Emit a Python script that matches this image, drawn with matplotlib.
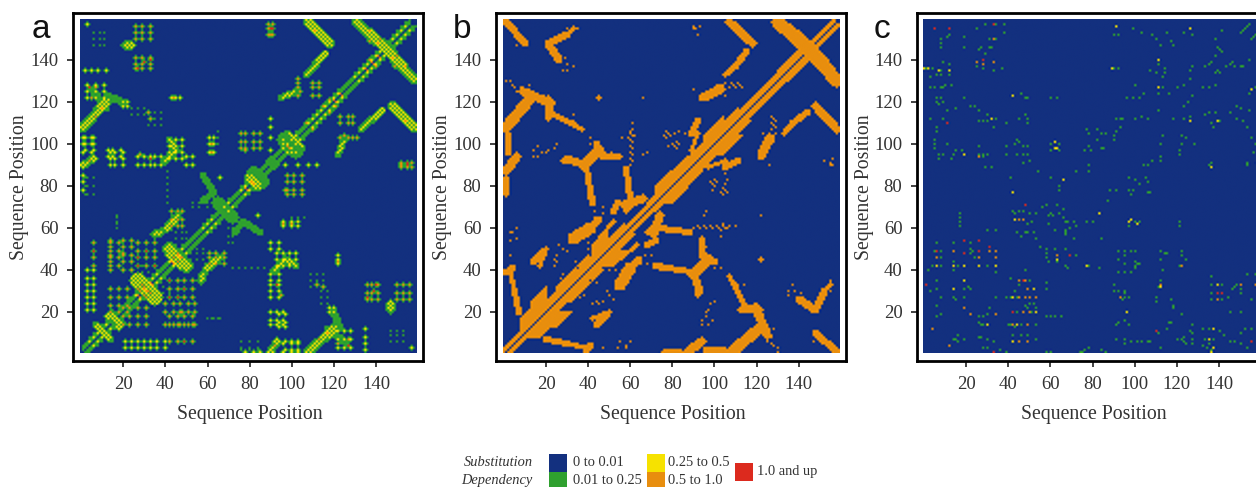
import numpy as np
import matplotlib
matplotlib.use("Agg")
import matplotlib.pyplot as plt
from matplotlib.colors import ListedColormap, BoundaryNorm
from matplotlib.patches import Rectangle

W, H = 1256, 487
N = 160

# ---- colour classes -------------------------------------------------------
BOUNDS = [0, 0.01, 0.25, 0.5, 1.0, 2.0]
LEVEL_VALUE = [0.005, 0.1, 0.4, 0.7, 1.5]
COLORS = ["#13307f", "#2fa02f", "#f6e200", "#e88e0e", "#dc2a1e"]
G, Y, O, R = 1, 2, 3, 4
TICKS = [20, 40, 60, 80, 100, 120, 140]

# ---- panel b: features read in the x>y half (mirrored across the diagonal) -
# main band: start, end, largest distance from the diagonal
B_BAND = [(0,8,3),(8,13,9),(13,21,12),(21,25,5),(25,35,7),(35,42,5),(42,50,10),(50,58,5),
          (58,68,3),(68,72,4),(72,80,8),(80,88,7),(88,95,6),(95,105,9),(105,112,6),
          (112,130,4),(130,144,5),(144,158,3)]
# x0, y0, x1, y1, half width
B_STROKES = [
    (87,1,94,6,1.8),(108,1,121,12,2.3),(120,21,125,9,1.8),(112,21,122,21,1),
    (107,37,115,22,.9),(20,7,30,5,1.1),(30,5,39,3,.9),(39,1,41,4,1.2),(148,10,158,1,1.4),
    (140,26,148,21,1.6),(148,21,152,30,1.4),(152,30,155,33,.8),(44,14,49,19,1.2),(42,17,50,20,.8),
    (55,33,60,41,2.6),(60,41,64,45,1.6),(64,43,68,43,.6),(72,42,77,41,1.4),(77,41,90,39,1.1),
    (90,38,97,45,2.4),(97,45,100,44,1.2),(94,46,94,55,.7),(90,38,93,30,1.5),(100,41,104,41,.6),
    (66,47,72,47,.6),(68,52,72,54,1.4),(71,57,74,66,1.8),(74,60,88,58,1.1),(88,60,110,61,.5),
    (122,94,127,103,1.5),(133,105,137,110,1),(137,110,144,115,1.2),(148,118,158,107,1.7),
    (144,146,158,130,2.8),(138,152,144,146,2.6),(130,158,138,152,2.6),(122,96,126,104,1),
    (99,78,101,84,.6),(104,76,106,84,.6),(103,77,106,77,.6),(105,89,111,92,1.4),(97,89,105,92,.7),
    (56,46,63,52,.7),(50,40,58,40,.6),(70,60,68,58,.7),
    (125,12,128,4,.6),(76,1,84,1,.8),(96,2,104,2,1.2),(113,22,120,23,.9),(108,33,115,33,.5),
    (42,36,46,40,1),(30,26,38,28,.5),(127,105,127,113,.5),(129,105,129,113,.5),(134,30,140,30,.5),
    (93,14,99,14,.5),(96,20,96,17,.5),(122,45,122,45,1),(154,91,156,91,.5),(156,95,156,89,.4),
    (147,6,150,8,.5),(58,76,61,78,.5),(73,74,73,72,.6),(103,61,103,56,.5),(42,24,48,25,.4),
    (45,96,52,95,.6),(28,92,38,90,.7),
]
B_DOTS = [(90,155),(92,152),(28,135),(30,135),(33,137),(29,141),(35,155),(30,155),(45,122),(66,122),
          (126,8),(128,12),(125,6),(127,5),(130,3),(130,1),(97,21),(99,16),(55,6),(60,6),(58,4),
          (66,95),(68,96),(60,106),(62,104),(33,92),(25,100),(24,98),(20,96),(14,97),(16,94),
          (17,45),(18,50),(19,48),(3,58),(3,54),(3,47),(26,52),(28,50),(30,49),(32,55),(34,44),
          (90,126),(112,128),(109,128),(105,123),(80,100),(82,98),(86,105)]

# ---- panel a: features read in the x>y half (mirrored across the diagonal) -
# start, end of stretches of the main band
A_Y_BAND = [(4,13),(26,37),(42,50),(58,64),(68,72),(76,84),(96,103),(108,124),(130,146),(148,156)]
A_O_BAND = [(27,35),(43,49),(120,124),(78,82),(135,143),(98,101)]
# x0, y0, x1, y1, half width, level
A_STROKES = [
    (14,7,7,14,.8,Y),(19,15,13,18,1.2,Y),(35,27,27,35,3.2,Y),
    (50,42,44,47,2.8,Y),(108,1,120,12,1.6,Y),(117,12,125,6,1,G),
    (123,12,120,20,1,G),(90,1,93,6,1.2,Y),(148,118,158,108,1.8,Y),(144,146,158,131,1.8,Y),
    (134,155,145,146,1.8,Y),(122,95,125,102,.9,Y),(133,107,143,116,1,Y),(92,40,97,45,1.2,Y),
    (97,45,102,42,.9,Y),(60,41,65,45,1.4,Y),(73,58,77,63,.9,G),(77,63,85,58,.8,G),
    (62,42,66,46,1,Y),(57,35,58,38,1.2,Y),(66,71,72,65,2.2,G),
    (102,97,97,102,3.2,G),(103,96,99,96,.8,Y),(105,98,102,102,.8,Y),(86,82,82,86,2.4,G),
    (92,90,90,92,1.4,G),(84,80,80,84,1.6,Y),(147,21,147,24,1.4,Y),
]
# columns, rows, level of the regular patches of dots
A_GRIDS = [
    ([42,46,49,53],[6,14,18,27,31,35],O),
    ([40,44,47,51,54],[14,20,24],O),
    ([21,24,27,30,33,36,40],[3,6],Y),
    ([20,23,27,31],[14,18,22],O),
    ([122,125,128],[3,7,11],Y),
    ([136,138,141,150,153,156],[26,29,33],O),
    ([152,155,157],[89,91],O),
    ([135],[2,5,8,12],Y),
    ([147,150,153],[6,9,11],G),
    ([157],[3],Y),
    ([123,127,129],[103,110,113],O),
    ([109,112,115],[32,35,38],G),
    ([114,117],[24,27,30],G),
    ([118,120],[20,22],Y),
    ([90,93,96],[14,16,20],Y),
    ([98,101,105],[76,78,82,85],O),
    ([97,103,108,112],[90],Y),
    ([96,100,103],[61,63],Y),
    ([93,96,99,102],[42,45,48],Y),
    ([90,94],[27,30,33,35,38,50,53],Y),
    ([94,97],[13,15,19],Y),
    ([97,100,103],[2,6],Y),
    ([76,80,84],[2],G),
    ([61,64,68],[43,46,48],O),
    ([55,58],[45,48,50],G),
    ([72,75,78,81,84,87],[41],G),
    ([78,82,85],[1],Y),
    ([96,100,103],[1,5],Y),
    ([122],[43,45,47],Y),
    ([100,103,106],[65],G),
    ([62,65],[17],G),
    ([36,39,42],[29,32],G),
    ([70,72],[53,56,60],G),
    ([6,3],[76,80,84],G),
    ([17],[60,63,66],G),
]
A_HOT = [(49,27,O),(46,27,R),(48,20,O),(46,31,O),(49,31,R),(42,31,O),(53,27,O),(46,6,O),(49,6,R),
         (49,18,O),(42,27,R),(42,35,R),(46,35,O),(53,31,O),(68,46,O),(90,155,R),(152,90,O),(155,91,R),
         (136,27,R),(139,30,R),(141,33,O),(125,104,O),(131,103,O),(127,7,O),(127,4,R),(122,44,O),
         (96,62,O),(100,62,O),(101,78,O),(97,78,O),(140,33,R),(112,33,O),(115,32,O),(84,66,Y),
         (122,5,O),(93,33,R),(95,28,O),(30,32,O),(33,29,O),(28,30,O),(31,27,O),(46,44,O),(48,46,O),
         (44,46,O),(140,137,O),(115,118,O),(118,121,O),(110,107,O),(154,111,O),(150,142,O),(154,137,O),
         (137,149,O),(141,148,O),(4,92,O),(113,7,O),(117,10,O)]

# ---- panel c: single cells --------------------------------------------------
C_RED = [(5,155),(12,155),(33,157),(28,140),(11,110),(26,54),(19,54),(31,51),(48,71),(69,47),(110,11),
         (141,29),(155,6),(33,1),(1,33),(19,48),(26,49),(6,49),(42,20),(47,35),(139,29)]
C_ORANGE = [(25,139),(28,138),(33,139),(33,150),(26,94),(6,46),(14,49),(26,46),(31,49),(34,49),(34,46),
            (45,35),(48,35),(49,31),(45,27),(48,27),(50,27),(53,27),(47,20),(50,20),(34,19),(42,14),(49,14),
            (49,6),(45,6),(12,4),(4,12),(63,47),(122,42),(112,33),(93,27),(139,26),(150,33),(157,33),(45,64),
            (47,64),(22,19),(19,22)]
C_YELLOW = [(0,136),(2,136),(7,135),(12,135),(32,112),(19,95),(42,123),(42,77),(62,101),(62,98),(63,98),
            (89,136),(91,156),(111,140),(111,127),(126,155),(126,111),(139,111),(136,89),(158,91),(66,83),
            (83,67),(97,63),(98,64),(101,62),(63,45),(77,42),(96,20),(139,33),(137,12),(135,7),(137,3),(136,1),
            (155,126),(6,42),(14,42),(19,42),(26,42),(34,42),(19,35),(14,31),(52,31),(42,27),(30,14),(44,14),
            (42,6),(53,20),(43,64),(112,32)]
C_GREEN = [(8,148),(11,151),(12,152),(8,146),(8,150),(19,151),(19,146),(25,155),(29,157),(34,157),(38,157),
           (38,153),(31,150),(34,150),(26,145),(29,143),(31,146),(32,146),(27,146),(25,137),(28,136),(33,135),
           (37,136),(1,136),(4,136),(3,132),(6,133),(8,133),(8,135),(12,133),(9,139),(12,138),(3,127),(5,127),
           (8,127),(9,127),(10,128),(13,128),(6,122),(8,122),(7,119),(9,120),(19,122),(6,120),(11,116),(15,117),
           (3,112),(9,112),(22,118),(24,118),(26,116),(26,111),(28,111),(30,111),(33,108),(34,112),(39,110),
           (30,114),(6,108),(6,106),(5,102),(5,100),(5,98),(11,100),(7,95),(9,95),(7,93),(13,93),(14,95),(15,97),
           (18,97),(26,99),(26,95),(28,94),(28,95),(30,95),(29,89),(32,89),(39,99),(39,95),(43,100),(44,102),
           (45,101),(47,99),(49,99),(44,95),(47,95),(49,95),(47,91),(50,92),(41,84),(46,124),(48,122),(49,122),
           (48,114),(45,112),(49,112),(49,110),(60,122),(63,122),(60,100),(64,100),(60,97),(64,97),(54,87),
           (60,84),(64,80),(64,78),(72,87),(77,107),(78,105),(82,107),(84,105),(86,105),(82,102),(84,98),(85,98),
           (76,97),(78,99),(79,97),(78,90),(78,87),(90,104),(90,102),(91,106),(93,108),(91,112),(93,112),(94,112),
           (100,112),(103,113),(106,112),(96,122),(99,122),(102,122),(104,124),(100,128),(90,136),(92,136),
           (90,152),(92,152),(99,155),(103,153),(108,152),(110,150),(112,147),(115,153),(117,149),(118,147),
           (111,138),(107,135),(110,134),(114,136),(114,134),(113,132),(113,127),(111,124),(116,124),(120,127),
           (123,128),(127,152),(123,153),(127,137),(126,135),(126,131),(127,123),(125,120),(123,118),(126,113),
           (123,112),(118,112),(111,116),(113,104),(112,100),(112,94),(112,92),(122,104),(124,103),(122,100),
           (121,97),(121,95),(128,100),(132,127),(135,127),(138,128),(133,114),(135,115),(138,115),(136,110),
           (137,108),(140,111),(138,134),(139,135),(140,134),(133,137),(135,138),(136,139),(138,142),(139,146),
           (140,145),(141,144),(138,150),(141,154),(143,137),(145,138),(146,139),(147,137),(150,137),(151,137),
           (145,115),(148,118),(150,117),(154,116),(148,112),(151,111),(153,108),(155,103),(157,100),(156,96),
           (153,91),(153,90),(136,91),(135,90),(150,153),(151,154),(152,155),(153,156),(154,157),(155,150),
           (156,151),(157,152),(158,153),(154,140),(154,124),(157,127),(42,68),(43,67),(45,68),(47,68),(50,67),
           (53,67),(56,70),(58,71),(60,67),(59,66),(61,66),(63,71),(64,67),(66,69),(66,65),(67,63),(68,63),(71,63),
           (69,60),(72,61),(67,59),(67,58),(67,57),(71,55),(49,62),(51,63),(44,58),(48,58),(49,58),(52,58),(46,56),
           (53,55),(59,62),(62,59),(77,63),(80,63),(84,55),(87,73),(88,78),(91,78),(97,78),(98,76),(99,78),(97,84),
           (100,83),(102,81),(105,84),(106,82),(106,77),(107,77),(104,90),(106,90),(108,92),(97,61),(100,63),
           (102,63),(121,63),(121,61),(55,51),(58,50),(58,48),(58,46),(59,44),(62,50),(67,50),(63,44),(72,47),
           (67,42),(68,41),(78,42),(83,41),(92,49),(95,49),(98,49),(100,49),(95,47),(92,45),(95,43),(100,44),
           (101,43),(102,43),(98,39),(92,39),(95,39),(100,42),(100,41),(112,49),(114,48),(115,48),(112,45),(113,40),
           (122,49),(122,47),(124,45),(121,42),(111,32),(112,35),(117,26),(110,27),(110,25),(118,23),(118,22),
           (122,19),(116,15),(117,15),(111,10),(115,12),(120,7),(122,7),(123,8),(123,6),(124,5),(127,10),(126,11),
           (127,14),(127,7),(127,5),(112,3),(90,33),(90,30),(92,30),(95,27),(94,26),(95,29),(95,30),(97,27),(91,14),
           (92,15),(95,16),(97,14),(91,7),(95,7),(95,5),(98,6),(101,6),(103,6),(106,6),(107,6),(136,37),(136,33),
           (141,33),(136,29),(136,26),(141,26),(144,27),(146,31),(147,32),(148,33),(150,31),(150,29),(155,26),
           (153,38),(157,38),(158,32),(145,20),(150,20),(135,12),(132,12),(140,11),(142,9),(150,10),(152,12),
           (155,12),(133,7),(137,7),(135,5),(132,4),(134,3),(136,2),(145,6),(147,6),(150,5),(153,3),(58,1),(60,1),
           (74,1),(75,1),(78,3),(76,2),(84,2),(86,1),(30,3),(28,3),(36,2),(39,1),(58,18),(60,18),(62,18),(65,18),
           (58,34),(58,31),(46,9),(49,9),(53,7),(14,7),(15,7),(16,6),(16,9),(19,7),(26,8),(27,8),(30,7),(33,6),
           (26,18),(28,18),(30,19),(31,22),(27,14),(26,15),(28,14),(5,49),(8,49),(8,46),(4,42),(8,42),(14,44),(14,40),
           (16,42),(2,40),(6,35),(6,31),(3,30),(8,27),(14,27),(15,26),(19,27),(19,31),(21,32),(22,31),(6,23),(6,18),
           (8,19),(22,53),(22,50),(23,49),(22,48),(24,46),(17,67),(17,65),(17,63),(17,61),(30,59),(34,59),(30,42),
           (34,39),(14,53),(6,53),(41,36),(45,33),(43,30),(41,27),(39,27),(44,27),(52,24),(50,24),(53,22),(48,23),
           (49,22),(51,20),(44,20),(40,14),(41,14),(43,13),(46,14),(53,14),(42,9),(50,35),(48,40),(34,27)]


# ---- rasterising ------------------------------------------------------------
yy, xx = np.mgrid[0:N, 0:N]


def stroke(M, x0, y0, x1, y1, hw, lev, every=1):
    dx, dy = x1 - x0, y1 - y0
    t = np.clip(((xx - x0) * dx + (yy - y0) * dy) / max(dx * dx + dy * dy, 1e-9), 0, 1)
    d = np.hypot(xx - (x0 + t * dx), yy - (y0 + t * dy))
    M[(d <= hw) & (M < lev) & ((xx + yy) % every == 0)] = lev


def mark(M, x, y, lev):
    if lev > G:
        for a, b in ((1, 0), (-1, 0), (0, 1), (0, -1)):
            if 0 <= y + b < N and 0 <= x + a < N and M[y + b, x + a] < G:
                M[y + b, x + a] = G
    M[y, x] = max(M[y, x], lev)


def panel_b():
    M = np.zeros((N, N), dtype=int)
    for t0, t1, w in B_BAND:
        for t in range(t0, t1):
            for o in range(1, w + 1):
                if t + o < N:
                    M[t, t + o] = O
    for x0, y0, x1, y1, hw in B_STROKES:
        stroke(M, x0, y0, x1, y1, hw + 0.35, O, 3 if hw < 0.65 else 1)
    for x, y in B_DOTS:
        M[y, x] = O
    return np.maximum(M, M.T)


def panel_a():
    M = np.zeros((N, N), dtype=int)
    for t in range(1, 157):
        M[t, t + 1] = G
        M[t, t + 2] = G
        M[t, t + 3] = G
    for x0, y0, x1, y1, hw, lev in A_STROKES:
        stroke(M, x0, y0, x1, y1, hw + 0.8, G)
        stroke(M, x0, y0, x1, y1, hw, lev, 2 if lev > G else 1)
    for s, e in A_Y_BAND:
        for t in range(s, e, 2):
            M[t, t + 2] = Y
            M[t, t + 4] = max(M[t, t + 4], G)
    for s, e in A_O_BAND:
        for t in range(s, e, 3):
            M[t, t + 1] = O
    for xs, ys, lev in A_GRIDS:
        for x in xs:
            for y in ys:
                mark(M, x, y, lev)
    for x, y, lev in A_HOT:
        mark(M, x, y, lev)
    return np.maximum(M, M.T)


def panel_c():
    M = np.zeros((N, N), dtype=int)
    for pts, lev in ((C_GREEN, G), (C_YELLOW, Y), (C_ORANGE, O), (C_RED, R)):
        for x, y in pts:
            M[y, x] = max(M[y, x], lev)
    return M


# ---- drawing ---------------------------------------------------------------
plt.rcParams["font.family"] = ["Liberation Serif", "DejaVu Serif"]
fig = plt.figure(figsize=(W / 100, H / 100), dpi=100, facecolor="white")
cmap = ListedColormap(COLORS)
norm = BoundaryNorm(BOUNDS, cmap.N)
INK = "#333333"


def fx(px):
    return px / W


def fy(py):
    return 1 - py / H


FRAMES = [(73, 423, 123.3, 376.0, 32, "a", 20), (496, 846, 546.0, 798.7, 453, "b", 442),
          (917, 1267, 966.0, 1219.0, 874, "c", 864)]
MATS = [panel_a(), panel_b(), panel_c()]
FT, FB = 13, 361

for (x0, x1, t20, t140, lx, letter, ylx), M in zip(FRAMES, MATS):
    ax = fig.add_axes([fx(x0), fy(FB), (x1 - x0) / W, (FB - FT) / H])
    sx = (t140 - t20) / 120
    sy = (312 - 60) / 120
    ax.set_xlim(20 - (t20 - x0) / sx, 20 + (x1 - t20) / sx)
    ax.set_ylim(20 - (FB - 312) / sy, 20 + (312 - FT) / sy)
    vals = np.array(LEVEL_VALUE)[M]
    ax.imshow(vals[1:], origin="lower", extent=(-0.5, 159.5, 0.5, 159.5), cmap=cmap, norm=norm,
              interpolation="catrom", interpolation_stage="rgba", aspect="auto")
    for s in ax.spines.values():
        s.set_linewidth(2.0)
    ax.set_xticks(TICKS)
    ax.set_yticks(TICKS)
    ax.tick_params(axis="both", length=4.5, width=1.3, colors=INK, labelsize=13.5, pad=6)
    ax.set_xlabel("Sequence Position", fontsize=14.2, color=INK)
    ax.xaxis.set_label_coords(0.505, (FB - 414) / (FB - FT), transform=ax.transAxes)
    ax.xaxis.label.set_verticalalignment("center")
    ax.set_ylabel("Sequence Position", fontsize=14.2, color=INK)
    ax.yaxis.set_label_coords((ylx - x0) / (x1 - x0), 0.5, transform=ax.transAxes)
    ax.yaxis.label.set_verticalalignment("center")
    fig.text(fx(lx), fy(38), letter, family="Liberation Sans", fontsize=24, color="#111111",
             ha="left", va="baseline")

# ---- legend -----------------------------------------------------------------
LEG_BOXES = [(549, 454, 0), (549, 472, 1), (647, 454, 2), (647, 472, 3), (735, 463, 4)]
LEG_LABELS = [(573, 462.5, "0 to 0.01"), (573, 480.5, "0.01 to 0.25"), (668, 462.5, "0.25 to 0.5"),
              (668, 480.5, "0.5 to 1.0"), (757, 471.5, "1.0 and up")]
LEG_TITLE = [(532.5, 462.5, "Substitution"), (532.5, 480.5, "Dependency")]
for x, y, i in LEG_BOXES:
    fig.add_artist(Rectangle((fx(x), fy(y + 18)), 18 / W, 18 / H, transform=fig.transFigure,
                             facecolor=COLORS[i], edgecolor="none"))
for x, y, s in LEG_LABELS:
    fig.text(fx(x), fy(y), s, fontsize=10.4, color=INK, ha="left", va="center")
for x, y, s in LEG_TITLE:
    fig.text(fx(x), fy(y), s, fontsize=10.4, color=INK, style="italic", ha="right", va="center")

fig.savefig("out.png", dpi=100)
